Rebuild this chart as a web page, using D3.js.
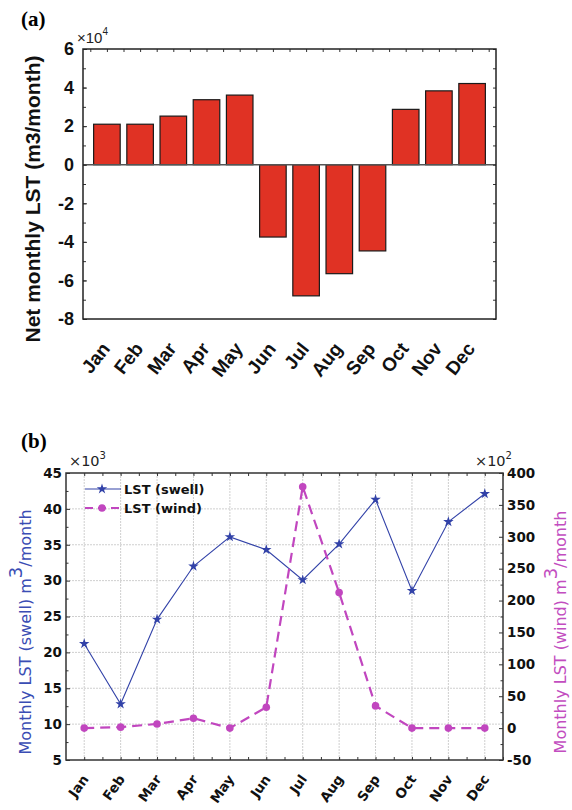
<!DOCTYPE html>
<html>
<head>
<meta charset="utf-8">
<script src="https://cdn.jsdelivr.net/npm/d3@7"></script>
<style>
  body { margin: 0; background: #fff; }
  svg { display: block; }
</style>
</head>
<body>
<svg id="drawspace" width="572" height="810"></svg>
<script>
// values
const months = ["Jan", "Feb", "Mar", "Apr", "May", "Jun", "Jul", "Aug", "Sep", "Oct", "Nov", "Dec"];
const netLST = [2.1, 2.1, 2.52, 3.37, 3.61, -3.75, -6.8, -5.65, -4.47, 2.87, 3.83, 4.21]; // x10^4
const netTicks = [-8, -6, -4, -2, 0, 2, 4, 6];
const swellLST = [21.2, 12.8, 24.6, 32.0, 36.1, 34.3, 30.1, 35.1, 41.3, 28.6, 38.2, 42.1]; // x10^3
const windLST = [0, 1.5, 6.5, 15.5, 0, 32.8, 378.5, 212.5, 34.8, 0, 0, 0]; // x10^2
const swellTicks = [5, 10, 15, 20, 25, 30, 35, 40, 45];
const windTicks = [-50, 0, 50, 100, 150, 200, 250, 300, 350, 400];

const svg = d3.select("#drawspace");
const blue = "#3242a8";
const magenta = "#c146bf";

// ---------- panel (a) ----------
const fa = "'Liberation Sans', Arial, sans-serif";
const xa = d3.scaleLinear().domain([0.28, 12.72]).range([83, 496]);
const ya = d3.scaleLinear().domain([-8, 6]).range([319, 49]);
const ga = svg.append("g");

svg.append("text").attr("x", 21).attr("y", 26)
  .attr("font-family", "'Liberation Serif', serif").attr("font-weight", "bold")
  .attr("font-size", 21).text("(a)");

ga.selectAll(".bar")
  .data(netLST)
  .enter()
  .append("rect")
  .attr("class", "bar")
  .attr("x", (d, i) => xa(i + 1) - (xa(1.4) - xa(1)))
  .attr("width", xa(1.8) - xa(1))
  .attr("y", d => ya(Math.max(0, d)))
  .attr("height", d => Math.abs(ya(d) - ya(0)))
  .attr("fill", "#e03224")
  .attr("stroke", "#1a1a1a")
  .attr("stroke-width", 1.2);

ga.append("line")
  .attr("x1", xa.range()[0]).attr("x2", xa.range()[1])
  .attr("y1", ya(0)).attr("y2", ya(0))
  .attr("stroke", "#555").attr("stroke-width", 1.5);

// minor ticks
ga.append("g").attr("transform", "translate(83,0)")
  .call(d3.axisLeft(ya).tickValues(d3.range(-8, 7, 1)).tickSize(-3).tickFormat(""));
ga.append("g").attr("transform", "translate(496,0)")
  .call(d3.axisRight(ya).tickValues(d3.range(-8, 7, 1)).tickSize(-3).tickFormat(""));
ga.append("g").attr("transform", "translate(0,49)")
  .call(d3.axisTop(xa).tickValues(d3.range(0.5, 12.6, 0.5)).tickSize(-3).tickFormat(""));

const axA = ga.append("g").attr("transform", "translate(83,0)")
  .call(d3.axisLeft(ya).tickValues(netTicks).tickSize(-4).tickPadding(9).tickFormat(d => String(d)));
axA.selectAll("text").attr("font-family", fa).attr("font-weight", "bold")
  .attr("font-size", 18).attr("fill", "#111");
ga.selectAll(".domain").remove();
ga.selectAll(".tick line").attr("stroke", "#333");

ga.append("rect").attr("x", 83).attr("y", 49).attr("width", 413).attr("height", 270)
  .attr("fill", "none").attr("stroke", "#222").attr("stroke-width", 1.5);

ga.selectAll(".mlab")
  .data(months)
  .enter()
  .append("text")
  .attr("class", "mlab")
  .attr("transform", (d, i) => "translate(" + (xa(i + 1) + 4) + ",349) rotate(-52)")
  .attr("text-anchor", "end")
  .attr("font-family", fa).attr("font-weight", "bold").attr("font-size", 19)
  .attr("fill", "#111")
  .text(d => d);

ga.append("text")
  .attr("transform", "translate(40,199) rotate(-90)")
  .attr("text-anchor", "middle")
  .attr("font-family", fa).attr("font-weight", "bold").attr("font-size", 21)
  .attr("fill", "#111")
  .text("Net monthly LST (m3/month)");

const ea = ga.append("text").attr("x", 77).attr("y", 43)
  .attr("font-family", fa).attr("font-size", 15).attr("fill", "#222");
ea.append("tspan").text("\u00d710");
ea.append("tspan").attr("dy", -8).attr("font-size", 10).text("4");

// ---------- panel (b) ----------
const fb = "'DejaVu Sans', sans-serif";
const xb = d3.scaleLinear().domain([0.5, 12.5]).range([66, 503]);
const yl = d3.scaleLinear().domain([5, 45]).range([760, 473]);
const yr = d3.scaleLinear().domain([-50, 400]).range([760, 473]);
const gb = svg.append("g");

svg.append("text").attr("x", 21).attr("y", 448)
  .attr("font-family", "'Liberation Serif', serif").attr("font-weight", "bold")
  .attr("font-size", 21).text("(b)");

// grid
gb.selectAll(".vg").data(d3.range(1, 13)).enter().append("line")
  .attr("x1", d => xb(d)).attr("x2", d => xb(d))
  .attr("y1", 473).attr("y2", 760)
  .attr("stroke", "#cfcfcf").attr("stroke-dasharray", "2,1");
gb.selectAll(".hg").data(swellTicks.slice(1, -1)).enter().append("line")
  .attr("x1", 66).attr("x2", 503)
  .attr("y1", d => yl(d)).attr("y2", d => yl(d))
  .attr("stroke", "#cfcfcf").attr("stroke-dasharray", "2,1");

// minor + major ticks
gb.append("g").attr("transform", "translate(66,0)")
  .call(d3.axisLeft(yl).tickValues(d3.range(7.5, 45, 5)).tickSize(-2.5).tickFormat(""));
gb.append("g").attr("transform", "translate(503,0)")
  .call(d3.axisRight(yr).tickValues(d3.range(-25, 400, 50)).tickSize(-2.5).tickFormat(""));
gb.append("g").attr("transform", "translate(0,473)")
  .call(d3.axisTop(xb).tickValues(d3.range(1, 12.6, 0.5)).tickSize(-3).tickFormat(""));
gb.append("g").attr("transform", "translate(0,760)")
  .call(d3.axisBottom(xb).tickValues(d3.range(1, 12.6, 0.5)).tickSize(-3).tickFormat(""));

const axL = gb.append("g").attr("transform", "translate(66,0)")
  .call(d3.axisLeft(yl).tickValues(swellTicks).tickSize(-4).tickPadding(4));
const axR = gb.append("g").attr("transform", "translate(503,0)")
  .call(d3.axisRight(yr).tickValues(windTicks).tickSize(-4).tickPadding(4).tickFormat(d => String(d)));
[axL, axR].forEach(a => a.selectAll("text")
  .attr("font-family", fb).attr("font-weight", "bold").attr("font-size", 13.5).attr("fill", "#111"));
gb.selectAll(".domain").remove();
gb.selectAll(".tick line").attr("stroke", "#333");

gb.append("rect").attr("x", 66).attr("y", 473).attr("width", 437).attr("height", 287)
  .attr("fill", "none").attr("stroke", "#333").attr("stroke-width", 1.5);

// swell line
gb.append("path")
  .datum(swellLST)
  .attr("fill", "none").attr("stroke", blue).attr("stroke-width", 1.1)
  .attr("d", d3.line().x((d, i) => xb(i + 1)).y(d => yl(d)));
gb.selectAll(".star").data(swellLST).enter().append("path")
  .attr("transform", (d, i) => "translate(" + xb(i + 1) + "," + yl(d) + ")")
  .attr("d", d3.symbol(d3.symbolStar, 34))
  .attr("fill", blue);

// wind line
gb.append("path")
  .datum(windLST)
  .attr("fill", "none").attr("stroke", magenta).attr("stroke-width", 2.2)
  .attr("stroke-dasharray", "10,6")
  .attr("d", d3.line().x((d, i) => xb(i + 1)).y(d => yr(d)));
gb.selectAll(".dot").data(windLST).enter().append("circle")
  .attr("cx", (d, i) => xb(i + 1)).attr("cy", d => yr(d)).attr("r", 3.8)
  .attr("fill", magenta);

// legend
const lg = gb.append("g");
lg.append("line").attr("x1", 85).attr("x2", 121).attr("y1", 489).attr("y2", 489)
  .attr("stroke", blue).attr("stroke-width", 1.1);
lg.append("path").attr("transform", "translate(102,489)")
  .attr("d", d3.symbol(d3.symbolStar, 34)).attr("fill", blue);
lg.append("line").attr("x1", 85).attr("x2", 121).attr("y1", 508).attr("y2", 508)
  .attr("stroke", magenta).attr("stroke-width", 2.2).attr("stroke-dasharray", "8,5");
lg.append("circle").attr("cx", 102).attr("cy", 508).attr("r", 3.8).attr("fill", magenta);
lg.selectAll(".lt").data(["LST (swell)", "LST (wind)"]).enter().append("text")
  .attr("x", 124).attr("y", (d, i) => 494 + i * 19)
  .attr("font-family", fb).attr("font-weight", "bold").attr("font-size", 13)
  .attr("fill", "#111").text(d => d);

// month labels
gb.selectAll(".mlabb")
  .data(months)
  .enter()
  .append("text")
  .attr("transform", (d, i) => "translate(" + (xb(i + 1) + 5) + ",779) rotate(-55)")
  .attr("text-anchor", "end")
  .attr("font-family", fb).attr("font-weight", "bold").attr("font-size", 13.5)
  .attr("fill", "#111")
  .text(d => d);

// exponent labels
const eL = gb.append("text").attr("x", 69).attr("y", 466)
  .attr("font-family", fb).attr("font-size", 14.5).attr("fill", "#222");
eL.append("tspan").text("\u00d710");
eL.append("tspan").attr("dy", -7).attr("font-size", 10).text("3");
const eR = gb.append("text").attr("x", 475).attr("y", 466)
  .attr("font-family", fb).attr("font-size", 14.5).attr("fill", "#222");
eR.append("tspan").text("\u00d710");
eR.append("tspan").attr("dy", -7).attr("font-size", 10).text("2");

// axis titles
function axisTitle(x, label, color) {
  const t = gb.append("text")
    .attr("transform", "translate(" + x + ",632) rotate(-90)")
    .attr("text-anchor", "middle")
    .attr("font-family", fb).attr("font-size", 16).attr("fill", color);
  t.append("tspan").text(label + " m");
  t.append("tspan").attr("dy", -9).attr("font-size", 18).text("3");
  t.append("tspan").attr("dy", 9).text("/month");
}
axisTitle(31, "Monthly LST (swell)", "#3a4db4");
axisTitle(566, "Monthly LST (wind)", "#c24dc0");
</script>
</body>
</html>
